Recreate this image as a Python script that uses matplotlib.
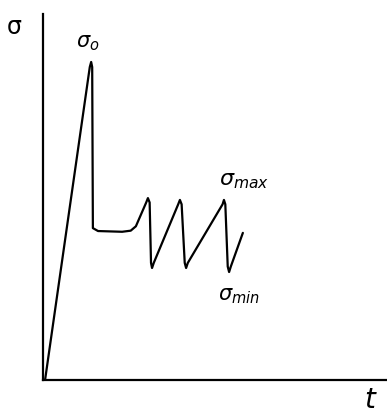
import matplotlib
matplotlib.use("Agg")
import matplotlib.pyplot as plt

# Stress history: elastic loading to the upper yield point, drop, plateau,
# then cyclic loading between sigma_max and sigma_min
t_vals = [0.06, 1.36, 1.40, 1.43, 1.45, 1.60, 2.30, 2.55, 2.70,
          3.00, 3.05, 3.10, 3.14, 3.17, 3.22,
          3.93, 3.98, 4.03, 4.12, 4.16, 4.21,
          5.22, 5.26, 5.30, 5.37, 5.41, 5.46, 5.81]
sigma_vals = [0.00, 8.55, 8.69, 8.55, 4.15, 4.07, 4.05, 4.08, 4.20,
              4.85, 4.97, 4.85, 3.20, 3.06, 3.20,
              4.80, 4.92, 4.80, 3.20, 3.06, 3.20,
              4.80, 4.92, 4.80, 3.10, 2.95, 3.10, 4.02]

y_label = "σ"
x_label = "t"
peak_label = r"$\sigma_o$"
max_label = r"$\sigma_{max}$"
min_label = r"$\sigma_{min}$"

W, H = 387, 415
fig = plt.figure(figsize=(W / 100, H / 100), dpi=100)
ax = fig.add_axes([43 / W, (H - 380) / H, (W - 43) / W, (380 - 14) / H])

ax.plot(t_vals, sigma_vals, color="black", lw=1.6,
        solid_joinstyle="round", solid_capstyle="round")

ax.set_xlim(0, 10)
ax.set_ylim(0, 10)
for side in ("top", "right"):
    ax.spines[side].set_visible(False)
for side in ("left", "bottom"):
    ax.spines[side].set_linewidth(1.6)
ax.set_xticks([])
ax.set_yticks([])

ax.text(-0.85, 9.65, y_label, fontsize=17, ha="center", va="center",
        clip_on=False)
ax.text(9.5, -0.55, x_label, fontsize=20, style="italic", ha="center",
        va="center", clip_on=False)
ax.text(1.30, 9.20, peak_label, fontsize=15, ha="center", va="center")
ax.text(5.85, 5.45, max_label, fontsize=16, ha="center", va="center")
ax.text(5.70, 2.30, min_label, fontsize=15, ha="center", va="center")

fig.savefig("out.png", dpi=100)
